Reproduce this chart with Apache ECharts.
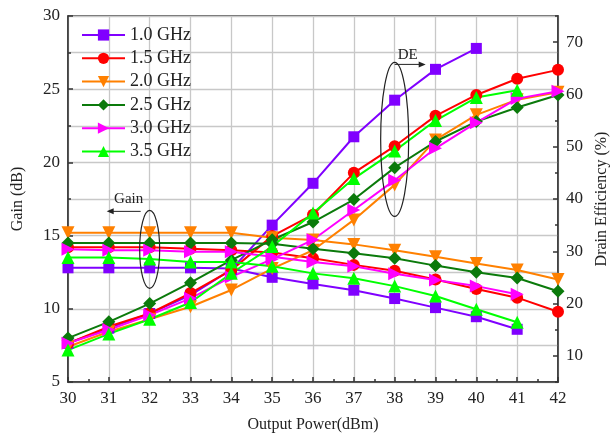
<!DOCTYPE html>
<html>
<head>
<meta charset="utf-8">
<script src="https://cdn.jsdelivr.net/npm/echarts@6/dist/echarts.min.js"></script>
<style>
  html, body { margin: 0; padding: 0; background: #fff; }
  #chart { width: 612px; height: 434px; }
</style>
</head>
<body>
<div id="chart"></div>
<script>
// output power (dBm)
var powers = [30, 31, 32, 33, 34, 35, 36, 37, 38, 39, 40, 41, 42];
var freqNames = ['1.0 GHz', '1.5 GHz', '2.0 GHz', '2.5 GHz', '3.0 GHz', '3.5 GHz'];

// gain (dB), left axis
var gain10 = [12.8, 12.8, 12.8, 12.8, 12.75, 12.15, 11.7, 11.27, 10.7, 10.08, 9.46, 8.6];
var gain15 = [14.2, 14.2, 14.2, 14.1, 14.0, 13.85, 13.45, 13.0, 12.6, 12.0, 11.35, 10.76, 9.8];
var gain20 = [15.2, 15.2, 15.2, 15.2, 15.2, 14.85, 14.7, 14.4, 14.0, 13.56, 13.1, 12.65, 12.0];
var gain25 = [14.5, 14.5, 14.5, 14.5, 14.5, 14.45, 14.1, 13.79, 13.45, 12.95, 12.5, 12.1, 11.2];
var gain30 = [14.06, 14.0, 14.0, 13.9, 13.9, 13.56, 13.2, 12.9, 12.4, 11.97, 11.55, 11.0];
var gain35 = [13.5, 13.5, 13.4, 13.2, 13.2, 12.9, 12.42, 12.08, 11.55, 10.87, 9.97, 9.08];

// drain efficiency (%), right axis
var de10 = [12.4, 15.3, 18.1, 21.6, 26.5, 35.0, 43.0, 51.9, 58.9, 64.8, 68.8];
var de15 = [12.4, 15.6, 18.1, 22.0, 26.4, 32.9, 37.0, 45.0, 50.1, 55.9, 59.9, 63.0, 64.7];
var de20 = [11.75, 14.6, 17.0, 19.4, 22.6, 26.7, 30.2, 36.0, 42.7, 51.3, 56.1, 59.0, 60.4];
var de25 = [13.4, 16.5, 20.0, 24.0, 28.3, 32.2, 35.6, 39.9, 46.0, 51.0, 54.8, 57.5, 59.9];
var de30 = [12.4, 15.0, 17.8, 21.0, 25.1, 28.5, 32.2, 37.9, 43.6, 49.7, 54.6, 59.2, 60.6];
var de35 = [11.1, 14.2, 17.0, 20.2, 25.8, 30.9, 37.3, 43.9, 49.2, 55.0, 59.4, 60.8];

var deTicks = [10, 20, 30, 40, 50, 60, 70];

var colors = ['#8000ff', '#ff0000', '#ff8000', '#0b7a0b', '#ff00ff', '#00ff00'];
var symbols = ['rect', 'circle', 'triangle', 'diamond', 'triangle', 'triangle'];
var rotates = [0, 0, 180, 0, -90, 0];
var sizes = [11, 12, 13, 13, 13, 13];
var gains = [gain10, gain15, gain20, gain25, gain30, gain35];
var des = [de10, de15, de20, de25, de30, de35];

var FONT = 'Liberation Serif';

function pairs(vals) {
  return vals.map(function (v, i) { return [powers[i], v]; });
}

function lineSeries(i, axis, vals) {
  return {
    name: freqNames[i],
    type: 'line',
    yAxisIndex: axis,
    data: pairs(vals),
    symbol: symbols[i],
    symbolSize: sizes[i],
    symbolRotate: rotates[i],
    lineStyle: { color: colors[i], width: 2 },
    itemStyle: { color: colors[i] },
    emphasis: { disabled: true },
    animation: false
  };
}

var series = [];
for (var i = 0; i < freqNames.length; i++) {
  series.push(lineSeries(i, 1, des[i]));
  series.push(lineSeries(i, 0, gains[i]));
}

var gridStyle = { color: '#c8c8c8', width: 1.3 };
var axisStyle = { color: '#333', width: 1.5 };

var chart = echarts.init(document.getElementById('chart'));
chart.setOption({
  backgroundColor: '#fff',
  animation: false,
  grid: {
    left: 68, right: 54, top: 16, bottom: 52,
    outerBoundsMode: 'none',
    show: true, borderColor: '#333', borderWidth: 1.5
  },
  legend: {
    data: freqNames,
    orient: 'vertical',
    left: 76,
    top: 21,
    itemWidth: 43,
    itemHeight: 14,
    itemGap: 5.3,
    textStyle: { fontFamily: FONT, fontSize: 18, color: '#222' }
  },
  xAxis: {
    type: 'value',
    min: 30, max: 42, interval: 1,
    name: 'Output Power(dBm)',
    nameLocation: 'middle',
    nameGap: 35,
    nameTextStyle: { fontFamily: FONT, fontSize: 16, color: '#222' },
    axisLine: { lineStyle: axisStyle },
    axisTick: { inside: true, length: 5, lineStyle: axisStyle },
    minorTick: { show: true, splitNumber: 2, length: 3, lineStyle: axisStyle },
    axisLabel: { fontFamily: FONT, fontSize: 17, color: '#222', margin: 8 },
    splitLine: { show: true, lineStyle: gridStyle }
  },
  yAxis: [{
    type: 'value',
    position: 'left',
    min: 5, max: 30, interval: 5,
    name: 'Gain (dB)',
    nameLocation: 'middle',
    nameGap: 42,
    nameTextStyle: { fontFamily: FONT, fontSize: 16, color: '#222' },
    axisLine: { show: true, lineStyle: axisStyle },
    axisTick: { show: true, inside: true, length: 5, lineStyle: axisStyle },
    minorTick: { show: true, splitNumber: 2, length: 3, lineStyle: axisStyle },
    axisLabel: { fontFamily: FONT, fontSize: 17, color: '#222', margin: 8 },
    splitLine: { show: true, lineStyle: gridStyle },
    minorSplitLine: { show: true, lineStyle: gridStyle }
  }, {
    type: 'value',
    position: 'right',
    min: 5, max: 75,
    name: 'Drain Efficiency (%)',
    nameLocation: 'middle',
    nameGap: 36,
    nameTextStyle: { fontFamily: FONT, fontSize: 16, color: '#222' },
    axisLine: { show: true, lineStyle: axisStyle },
    axisTick: { show: true, inside: true, length: 5, lineStyle: axisStyle, customValues: deTicks },
    axisLabel: { fontFamily: FONT, fontSize: 17, color: '#222', margin: 8, customValues: deTicks },
    splitLine: { show: false }
  }, {
    type: 'value',
    position: 'right',
    min: 5, max: 75, interval: 10,
    axisLine: { show: false },
    axisTick: { show: true, inside: true, length: 3, lineStyle: axisStyle },
    axisLabel: { show: false },
    splitLine: { show: false }
  }],
  series: series
});

// annotations: ellipses around the gain and DE groups, with arrows and labels
var g = chart.convertToPixel({ xAxisIndex: 0, yAxisIndex: 0 }, [32, 14.06]);
var d = chart.convertToPixel({ xAxisIndex: 0, yAxisIndex: 1 }, [38, 51.4]);
var ink = '#222';
chart.setOption({
  graphic: [
    { type: 'ellipse', shape: { cx: g[0], cy: g[1], rx: 10, ry: 39 }, style: { fill: 'none', stroke: ink, lineWidth: 1.2 }, z: 100 },
    { type: 'line', shape: { x1: g[0] - 9, y1: g[1] - 38, x2: g[0] - 38, y2: g[1] - 38 }, style: { stroke: ink, lineWidth: 1 }, z: 100 },
    { type: 'polygon', shape: { points: [[g[0] - 43, g[1] - 38], [g[0] - 36, g[1] - 41], [g[0] - 36, g[1] - 35]] }, style: { fill: ink }, z: 100 },
    { type: 'text', x: g[0] - 21, y: g[1] - 50, style: { text: 'Gain', font: '15px "Liberation Serif"', fill: ink, align: 'center', verticalAlign: 'middle' }, z: 100 },
    { type: 'ellipse', shape: { cx: d[0], cy: d[1], rx: 14, ry: 77 }, style: { fill: 'none', stroke: ink, lineWidth: 1.2 }, z: 100 },
    { type: 'line', shape: { x1: d[0], y1: d[1] - 75, x2: d[0] + 25, y2: d[1] - 75 }, style: { stroke: ink, lineWidth: 1 }, z: 100 },
    { type: 'polygon', shape: { points: [[d[0] + 31, d[1] - 75], [d[0] + 24, d[1] - 78], [d[0] + 24, d[1] - 72]] }, style: { fill: ink }, z: 100 },
    { type: 'text', x: d[0] + 13, y: d[1] - 84, style: { text: 'DE', font: '15px "Liberation Serif"', fill: ink, align: 'center', verticalAlign: 'middle' }, z: 100 }
  ]
});
</script>
</body>
</html>
